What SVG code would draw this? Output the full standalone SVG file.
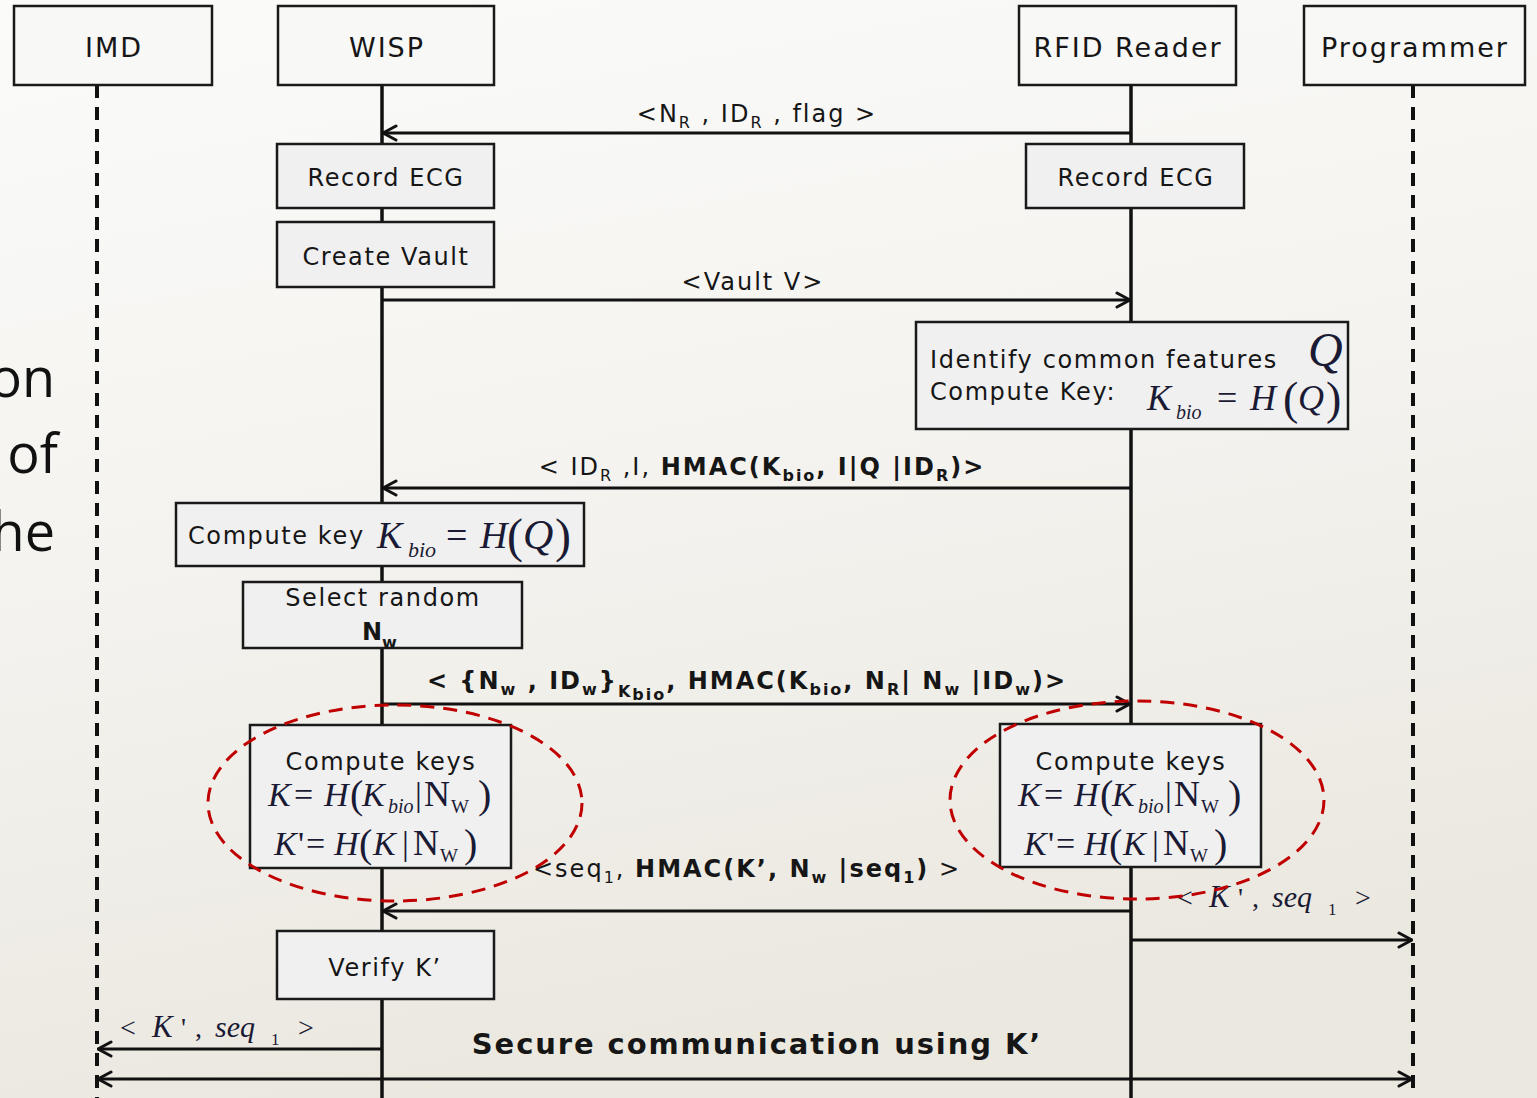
<svg xmlns="http://www.w3.org/2000/svg" width="1537" height="1098" viewBox="0 0 1537 1098">
<defs>
<linearGradient id="bg" x1="0" y1="0" x2="0.25" y2="1">
<stop offset="0" stop-color="#fbfbfa"/>
<stop offset="0.5" stop-color="#f4f3ef"/>
<stop offset="1" stop-color="#ebe8e0"/>
</linearGradient>
<marker id="arr" viewBox="0 0 16 18" refX="15" refY="9" markerWidth="16" markerHeight="18" markerUnits="userSpaceOnUse" orient="auto-start-reverse">
<path d="M2,2 L15,9 L2,16" fill="none" stroke="#111" stroke-width="3" stroke-linecap="round" stroke-linejoin="round"/>
</marker>
<style>
.hdr{fill:#f8f8f6;stroke:#1a1a1a;stroke-width:2.5}
.box{fill:#f0f0f0;stroke:#1a1a1a;stroke-width:2.5}
.t{font-family:"DejaVu Sans",Verdana,sans-serif;fill:#161616}
.h{font-size:27px;letter-spacing:2px}
.b{font-size:24px;letter-spacing:1.6px}
.l{font-size:24px;letter-spacing:2px}
.bd{font-weight:bold}
.s{font-size:16px}
.m{font-family:"Liberation Serif","Times New Roman",serif;fill:#1a1a35}
.i{font-style:italic}
.life{stroke:#111;stroke-width:3.5;fill:none}
.dash{stroke:#111;stroke-width:4;fill:none;stroke-dasharray:13 9}
.msg{stroke:#111;stroke-width:3;fill:none;marker-end:url(#arr)}
.ell{fill:none;stroke:#c00000;stroke-width:3;stroke-dasharray:14 9}
</style>
</defs>
<rect x="0" y="0" width="1537" height="1098" fill="url(#bg)"/>

<g id="slide-text" font-family="'Open Sans','Noto Sans',sans-serif" font-size="54" fill="#111" text-anchor="end">
<text x="55" y="397">on</text>
<text x="58" y="473">of</text>
<text x="55" y="551">he</text>
</g>

<g id="lifelines">
<line class="dash" x1="97" y1="85" x2="97" y2="1098"/>
<line class="life" x1="382" y1="85" x2="382" y2="1098"/>
<line class="life" x1="1131" y1="85" x2="1131" y2="1098"/>
<line class="dash" x1="1413" y1="85" x2="1413" y2="1092" stroke-width="3.5"/>
</g>

<g id="connectors">
<line class="msg" x1="1131" y1="133" x2="383" y2="133"/>
<text class="t l" x="757" y="122" text-anchor="middle">&lt;N<tspan class="s" dy="6">R</tspan><tspan dy="-6"> , ID</tspan><tspan class="s" dy="6">R</tspan><tspan dy="-6"> , flag &gt;</tspan></text>

<line class="msg" x1="382" y1="300" x2="1130" y2="300"/>
<text class="t l" x="753" y="290" text-anchor="middle">&lt;Vault V&gt;</text>

<line class="msg" x1="1131" y1="488" x2="383" y2="488"/>
<text class="t l" x="762" y="475" text-anchor="middle" letter-spacing="2.5">&lt; ID<tspan class="s" dy="6">R</tspan><tspan dy="-6"> ,I, </tspan><tspan class="bd">HMAC(K</tspan><tspan class="s bd" dy="6">bio</tspan><tspan class="bd" dy="-6">, I|Q |ID</tspan><tspan class="s bd" dy="6">R</tspan><tspan class="bd" dy="-6">)&gt;</tspan></text>

<line class="msg" x1="382" y1="704" x2="1130" y2="704"/>
<text class="t l bd" x="747" y="689" text-anchor="middle" letter-spacing="2.3">&lt; {N<tspan class="s" dy="6">w</tspan><tspan dy="-6"> , ID</tspan><tspan class="s" dy="6">w</tspan><tspan dy="-6">}</tspan><tspan class="s" dy="8">K</tspan><tspan class="s" dy="3">bio</tspan><tspan dy="-11">, HMAC(K</tspan><tspan class="s" dy="6">bio</tspan><tspan dy="-6">, N</tspan><tspan class="s" dy="6">R</tspan><tspan dy="-6">| N</tspan><tspan class="s" dy="6">w</tspan><tspan dy="-6"> |ID</tspan><tspan class="s" dy="6">w</tspan><tspan dy="-6">)&gt;</tspan></text>

<line class="msg" x1="1131" y1="911" x2="383" y2="911"/>
<text class="t l" x="747" y="877" text-anchor="middle" letter-spacing="2.4">&lt;seq<tspan class="s" dy="6">1</tspan><tspan dy="-6">, </tspan><tspan class="bd">HMAC(K’, N</tspan><tspan class="s bd" dy="6">w</tspan><tspan class="bd" dy="-6"> |seq</tspan><tspan class="s bd" dy="6">1</tspan><tspan class="bd" dy="-6">)</tspan><tspan> &gt;</tspan></text>

<line class="msg" x1="1131" y1="940" x2="1412" y2="940"/>
<text class="m" font-size="28" y="907"><tspan x="1177">&lt;</tspan><tspan x="1209" class="i" font-size="31">K</tspan><tspan x="1238">'</tspan><tspan x="1252">,</tspan><tspan x="1272" class="i" font-size="30">seq</tspan><tspan x="1328" font-size="17" dy="8">1</tspan><tspan x="1355" dy="-8">&gt;</tspan></text>

<line class="msg" x1="382" y1="1049" x2="98" y2="1049"/>
<text class="m" font-size="28" y="1037"><tspan x="120">&lt;</tspan><tspan x="152" class="i" font-size="31">K</tspan><tspan x="181">'</tspan><tspan x="195">,</tspan><tspan x="215" class="i" font-size="30">seq</tspan><tspan x="271" font-size="17" dy="8">1</tspan><tspan x="298" dy="-8">&gt;</tspan></text>

<line class="msg" x1="98" y1="1079" x2="1412" y2="1079" marker-start="url(#arr)"/>
<text class="t bd" x="757" y="1054" font-size="29" text-anchor="middle" letter-spacing="1.9">Secure communication using K’</text>
</g>

<g id="imd">
<rect class="hdr" x="14" y="6" width="198" height="79"/>
<text class="t h" x="114" y="57" text-anchor="middle" letter-spacing="3.5">IMD</text>
</g>
<g id="wisp">
<rect class="hdr" x="278" y="6" width="216" height="79"/>
<text class="t h" x="387" y="57" text-anchor="middle">WISP</text>
</g>
<g id="rfid-reader">
<rect class="hdr" x="1019" y="6" width="217" height="79"/>
<text class="t h" x="1128" y="57" text-anchor="middle" letter-spacing="1.7">RFID Reader</text>
</g>
<g id="programmer">
<rect class="hdr" x="1304" y="6" width="221" height="79"/>
<text class="t h" x="1415" y="57" text-anchor="middle">Programmer</text>
</g>

<g id="wisp-record-ecg">
<rect class="box" x="277" y="144" width="217" height="64"/>
<text class="t b" x="386" y="186" text-anchor="middle">Record ECG</text>
</g>
<g id="rfid-record-ecg">
<rect class="box" x="1026" y="144" width="218" height="64"/>
<text class="t b" x="1136" y="186" text-anchor="middle">Record ECG</text>
</g>
<g id="create-vault">
<rect class="box" x="277" y="222" width="217" height="65"/>
<text class="t b" x="386" y="265" text-anchor="middle">Create Vault</text>
</g>

<g id="identify-features">
<rect class="box" x="916" y="322" width="432" height="107"/>
<text class="t b" x="930" y="368" letter-spacing="1.2">Identify common features</text>
<text class="m i" x="1308" y="366" font-size="48">Q</text>
<text class="t b" x="930" y="400" letter-spacing="1.2">Compute Key:</text>
<text class="m" y="410" font-size="36"><tspan class="i" x="1147">K</tspan><tspan class="i" x="1176" y="419" font-size="20">bio</tspan><tspan x="1217" y="410">=</tspan><tspan class="i" x="1250">H</tspan><tspan x="1283" font-size="46" y="414">(</tspan><tspan class="i" x="1298" y="410">Q</tspan><tspan x="1326" font-size="46" y="414">)</tspan></text>
</g>

<g id="wisp-compute-key">
<rect class="box" x="176" y="503" width="408" height="63"/>
<text class="t b" x="188" y="544" letter-spacing="1.4">Compute key</text>
<text class="m" y="548" font-size="38"><tspan class="i" x="377">K</tspan><tspan class="i" x="408" y="557" font-size="22">bio</tspan><tspan x="446" y="548">=</tspan><tspan class="i" x="480">H</tspan><tspan x="507" font-size="48" y="552">(</tspan><tspan class="i" x="523" y="549" font-size="42">Q</tspan><tspan x="555" font-size="48" y="552">)</tspan></text>
</g>

<g id="select-random">
<rect class="box" x="243" y="582" width="279" height="66"/>
<text class="t b" x="383" y="606" text-anchor="middle">Select random</text>
<text class="t bd" x="362" y="640" font-size="24">N<tspan font-size="16" dy="8">w</tspan></text>
</g>

<g id="wisp-compute-keys">
<rect class="box" x="250" y="725" width="261" height="143"/>
<text class="t b" x="381" y="770" text-anchor="middle">Compute keys</text>
<text class="m" y="806" font-size="34"><tspan class="i" x="268">K</tspan><tspan x="294">=</tspan><tspan class="i" x="324">H</tspan><tspan x="350" font-size="40" y="808">(</tspan><tspan class="i" x="362" y="806">K</tspan><tspan class="i" x="388" y="813" font-size="20">bio</tspan><tspan x="415" y="806">|</tspan><tspan x="424" font-size="36">N</tspan><tspan x="451" y="813" font-size="19">W</tspan><tspan x="478" font-size="40" y="808">)</tspan></text>
<text class="m" y="855" font-size="34"><tspan class="i" x="274">K</tspan><tspan x="298">'</tspan><tspan x="306">=</tspan><tspan class="i" x="334">H</tspan><tspan x="359" font-size="40" y="857">(</tspan><tspan class="i" x="373" y="855">K</tspan><tspan x="402">|</tspan><tspan x="413" font-size="36">N</tspan><tspan x="440" y="862" font-size="19">W</tspan><tspan x="464" font-size="40" y="857">)</tspan></text>
</g>

<g id="rfid-compute-keys">
<rect class="box" x="1000" y="724" width="261" height="143"/>
<g transform="translate(750,0)">
<text class="t b" x="381" y="770" text-anchor="middle">Compute keys</text>
<text class="m" y="806" font-size="34"><tspan class="i" x="268">K</tspan><tspan x="294">=</tspan><tspan class="i" x="324">H</tspan><tspan x="350" font-size="40" y="808">(</tspan><tspan class="i" x="362" y="806">K</tspan><tspan class="i" x="388" y="813" font-size="20">bio</tspan><tspan x="415" y="806">|</tspan><tspan x="424" font-size="36">N</tspan><tspan x="451" y="813" font-size="19">W</tspan><tspan x="478" font-size="40" y="808">)</tspan></text>
<text class="m" y="855" font-size="34"><tspan class="i" x="274">K</tspan><tspan x="298">'</tspan><tspan x="306">=</tspan><tspan class="i" x="334">H</tspan><tspan x="359" font-size="40" y="857">(</tspan><tspan class="i" x="373" y="855">K</tspan><tspan x="402">|</tspan><tspan x="413" font-size="36">N</tspan><tspan x="440" y="862" font-size="19">W</tspan><tspan x="464" font-size="40" y="857">)</tspan></text>
</g>
</g>

<g id="verify-k">
<rect class="box" x="277" y="931" width="217" height="68"/>
<text class="t b" x="385" y="976" text-anchor="middle">Verify K’</text>
</g>

<g id="highlights">
<ellipse class="ell" cx="395" cy="803" rx="187" ry="98"/>
<ellipse class="ell" cx="1137" cy="800" rx="187" ry="99"/>
</g>
</svg>
